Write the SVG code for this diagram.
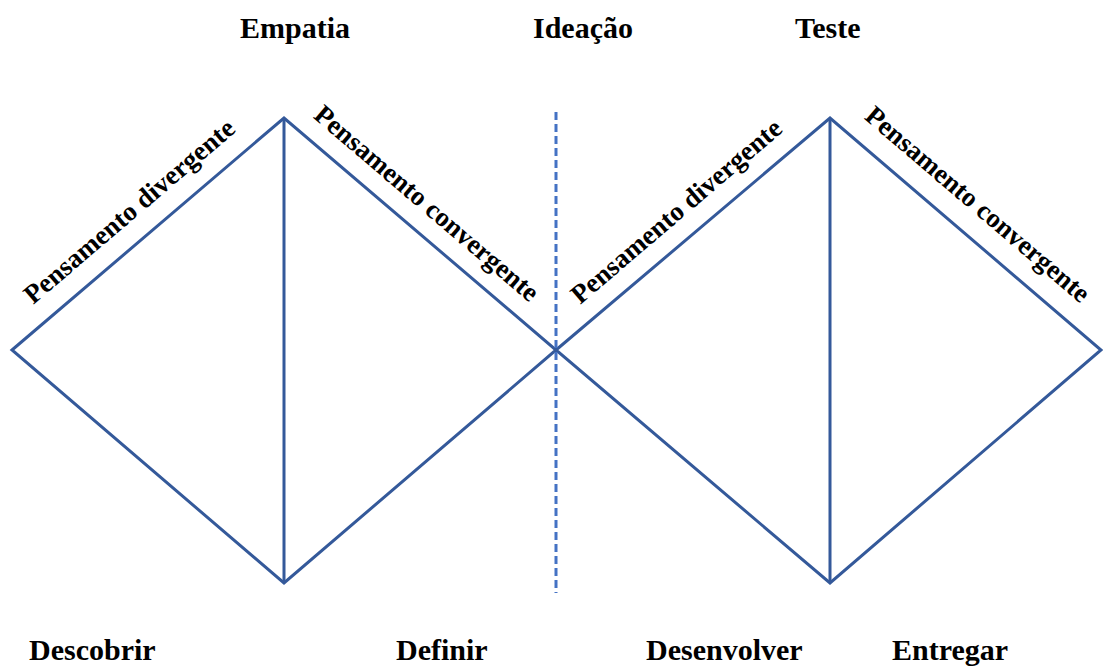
<svg xmlns="http://www.w3.org/2000/svg" width="1103" height="668" viewBox="0 0 1103 668">
<style>
.edge{fill:none;stroke:#34599A;stroke-width:3;stroke-linejoin:miter}
.dash{fill:none;stroke:#4472C4;stroke-width:3;stroke-dasharray:8 4}
.lbl{font-family:"Liberation Serif","Times New Roman",serif;font-weight:bold;font-size:30px;fill:#000}
.rot{font-family:"Liberation Serif","Times New Roman",serif;font-weight:bold;font-size:27px;fill:#000;text-anchor:middle}
</style>
<rect width="1103" height="668" fill="#fff"/>
<g id="diamond-left">
<polygon class="edge" points="12,350 284,118 556,350 284,583"/>
<line class="edge" x1="284" y1="118" x2="284" y2="583"/>
</g>
<g id="diamond-right">
<polygon class="edge" points="556,350 830,118 1101,350 830,583"/>
<line class="edge" x1="830" y1="118" x2="830" y2="583"/>
</g>
<g id="connectors">
<line class="dash" x1="556" y1="112" x2="556" y2="593"/>
</g>
<g id="edge-labels">
<text class="rot" transform="translate(135,218) rotate(-40.5)">Pensamento divergente</text>
<text class="rot" transform="translate(421,210) rotate(40.5)">Pensamento convergente</text>
<text class="rot" transform="translate(682,218) rotate(-40.5)">Pensamento divergente</text>
<text class="rot" transform="translate(972,211) rotate(40.5)">Pensamento convergente</text>
</g>
<g id="top-labels">
<text class="lbl" x="240" y="38">Empatia</text>
<text class="lbl" x="533" y="38">Ideação</text>
<text class="lbl" x="795" y="38">Teste</text>
</g>
<g id="bottom-labels">
<text class="lbl" x="29" y="660">Descobrir</text>
<text class="lbl" x="396" y="660">Definir</text>
<text class="lbl" x="646" y="660">Desenvolver</text>
<text class="lbl" x="892" y="660">Entregar</text>
</g>
</svg>
